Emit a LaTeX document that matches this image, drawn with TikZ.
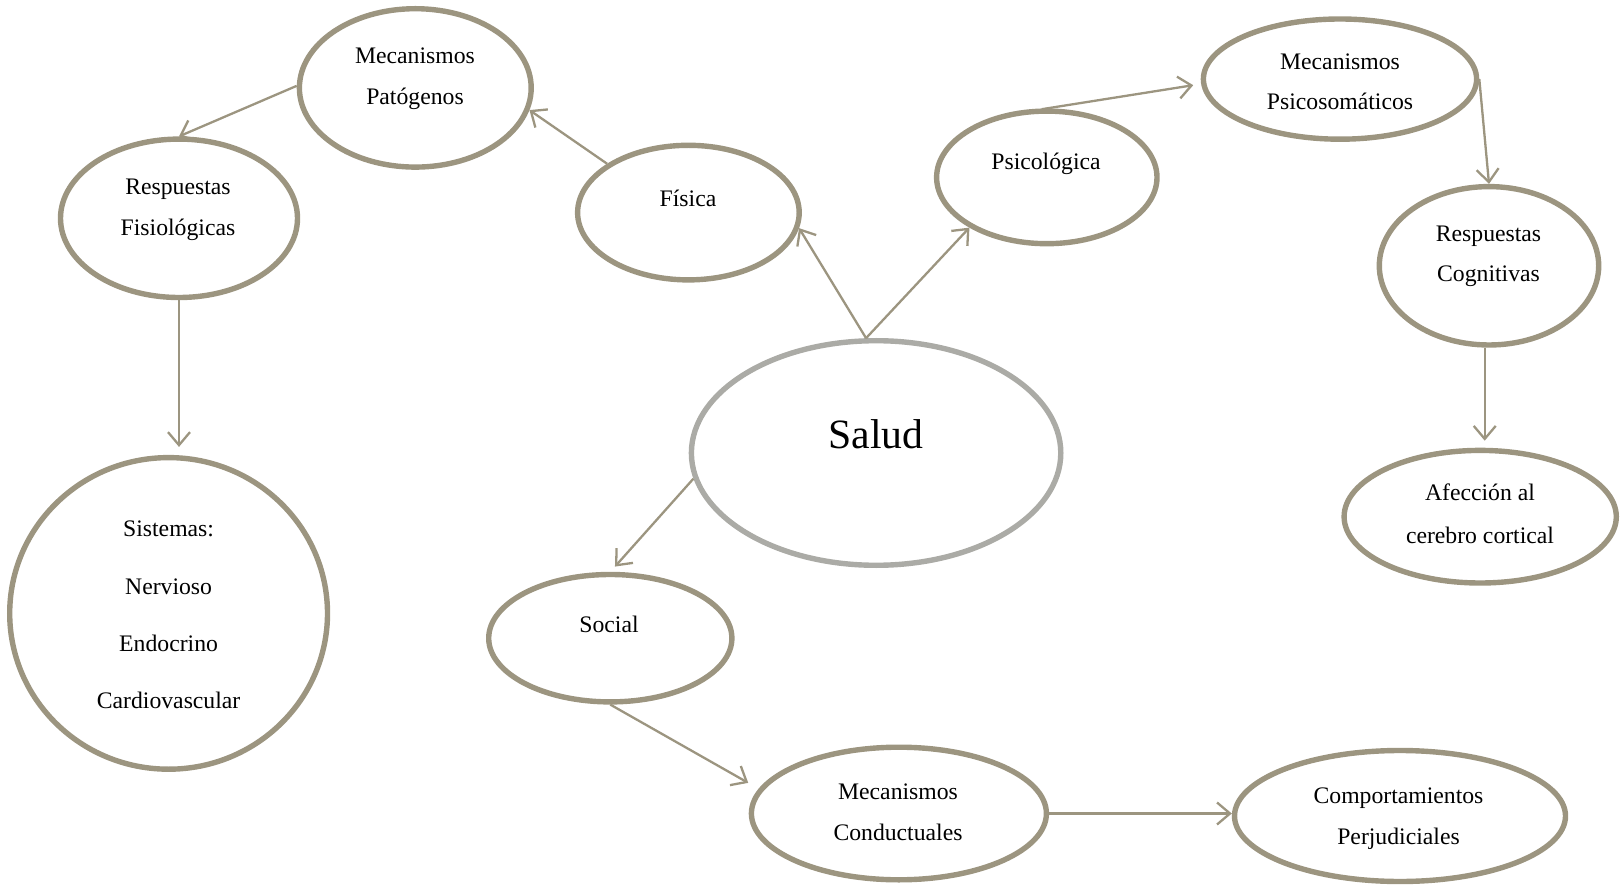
\documentclass[tikz,border=0pt]{standalone}
\usepackage{fontspec}
\setmainfont{Liberation Serif}
\usetikzlibrary{shapes.geometric,arrows.meta}
\definecolor{tanline}{HTML}{9C9580}
\definecolor{salgray}{HTML}{ABABA6}
\begin{document}
\begin{tikzpicture}[x=0.5pt,y=-0.5pt,
  bub/.style={ellipse,draw=tanline,line width=2.7pt,inner sep=0pt,fill=white},
  lbl/.style={anchor=base,inner sep=0pt,font=\fontsize{11.85}{14}\selectfont},
  arr/.style={draw=tanline,line width=1.15pt,-{Straight Barb[length=6.5pt,width=11pt]}}]
\useasboundingbox (0,0) rectangle (1622,887);
% bubbles
\node[bub,minimum width=115.9pt,minimum height=79.2pt] (mp)  at (415.3,87.9) {};
\node[bub,minimum width=118.5pt,minimum height=79.2pt] (rf)  at (179,218.3) {};
\node[bub,minimum width=158.9pt,minimum height=155.8pt] (sis) at (168.6,613.4) {};
\node[bub,minimum width=110.8pt,minimum height=67.3pt] (fis) at (688.4,212.6) {};
\node[bub,minimum width=110.2pt,minimum height=66.3pt] (psi) at (1046.8,177.4) {};
\node[bub,minimum width=136.6pt,minimum height=60.1pt] (mps) at (1340,79.1) {};
\node[bub,minimum width=109.7pt,minimum height=79.2pt] (rc)  at (1489,265.8) {};
\node[bub,minimum width=136.1pt,minimum height=66.3pt] (af)  at (1480.2,516.7) {};
\node[bub,draw=salgray,minimum width=184.7pt,minimum height=112.3pt] (sal) at (876.1,453) {};
\node[bub,minimum width=121.6pt,minimum height=63.7pt] (soc) at (610.3,638.2) {};
\node[bub,minimum width=147.5pt,minimum height=66.3pt] (mc)  at (898.9,813.5) {};
\node[bub,minimum width=165.5pt,minimum height=65.5pt] (cp)  at (1400,816) {};
% texts
\node[lbl] (mp1) at (415,64) {Mecanismos};
\node[lbl] (mp2) at (415,105) {Patógenos};
\node[lbl] (rf1) at (178,195) {Respuestas};
\node[lbl] (rf2) at (178,236) {Fisiológicas};
\node[lbl] (sis1) at (168.6,536.7) {Sistemas:};
\node[lbl] (sis2) at (168.6,594) {Nervioso};
\node[lbl] (sis3) at (168.6,651) {Endocrino};
\node[lbl] (sis4) at (168.6,708.7) {Cardiovascular};
\node[lbl] (fis1) at (688,206.7) {Física};
\node[lbl] (psi1) at (1046,170) {Psicológica};
\node[lbl] (mps1) at (1340,70) {Mecanismos};
\node[lbl] (mps2) at (1340,110) {Psicosomáticos};
\node[lbl] (rc1) at (1488.5,242) {Respuestas};
\node[lbl] (rc2) at (1488.5,282) {Cognitivas};
\node[lbl] (af1) at (1480,501) {Afección al};
\node[lbl] (af2) at (1480,543) {cerebro cortical};
\node[lbl,font=\fontsize{20.85}{24}\selectfont] (sal1) at (876,448.3) {Salud};
\node[lbl] (soc1) at (609,632.7) {Social};
\node[lbl] (mc1) at (898,799) {Mecanismos};
\node[lbl] (mc2) at (898,840) {Conductuales};
\node[lbl] (cp1) at (1398.5,803) {Comportamientos};
\node[lbl] (cp2) at (1398.5,844) {Perjudiciales};
% connectors
\draw[arr] (fis.149) -- (mp.-11);
\draw[arr] (mp.179) -- (rf.north);
\draw[arr,shorten >=4pt] (rf.south) -- (rf.south |- sis.north);
\draw[arr] (sal.95) -- (fis.-8);
\draw[arr] (sal.95) -- (psi.213);
\draw[arr,shorten <=-2.5pt,shorten >=4pt] (psi.north) -- (mps.182);
\draw[arr] (mps.east) -- (rc.north);
\draw[arr,shorten >=3.5pt] (rc.267) -- (rc.267 |- af.north);
\draw[arr,shorten >=3.5pt] (sal.188) -- (soc.north);
\draw[arr,shorten >=6pt] (soc.south) -- (mc.170);
\draw[arr] (mc.east) -- (mc.east -| cp.west);
\end{tikzpicture}
\end{document}
